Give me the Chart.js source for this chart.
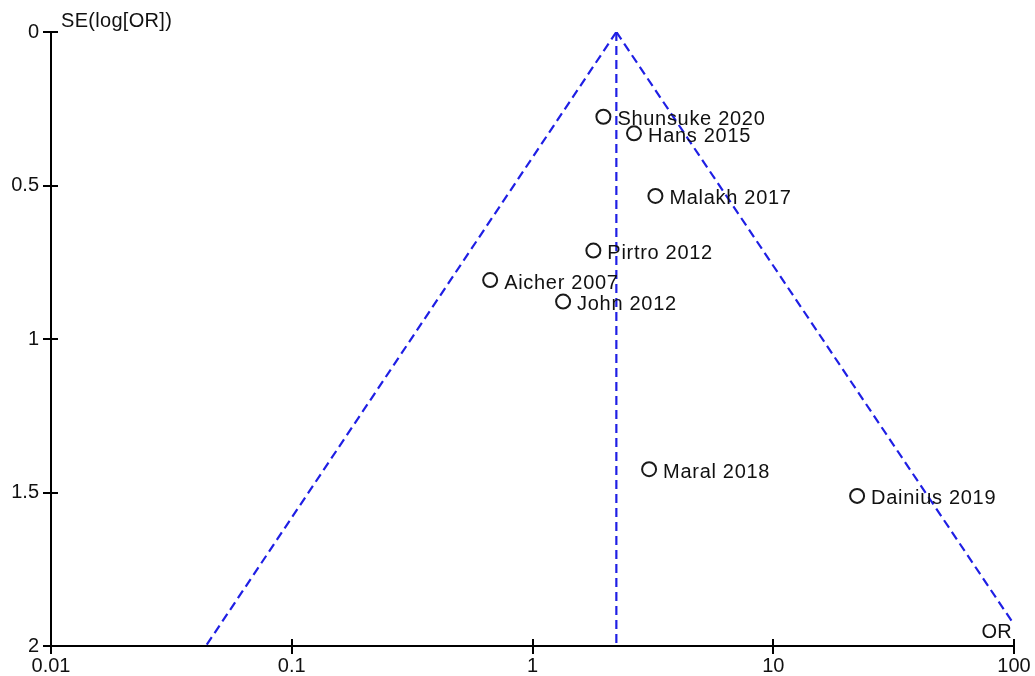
<!DOCTYPE html>
<html>
<head>
<meta charset="utf-8">
<title>Funnel plot</title>
<script src="https://cdn.jsdelivr.net/npm/chart.js@4/dist/chart.umd.min.js"></script>
<style>
  html, body { margin: 0; padding: 0; background: #fff; }
  #wrap { width: 1035px; height: 676px; position: relative; }
</style>
</head>
<body>
<div id="wrap"><canvas id="funnel"></canvas></div>
<script>
// Studies: odds ratio and standard error of log(OR)
const studyNames = ['Shunsuke 2020', 'Hans 2015', 'Malakh 2017', 'Pirtro 2012',
                    'Aicher 2007', 'John 2012', 'Maral 2018', 'Dainius 2019'];
const studyOR = [1.97, 2.64, 3.24, 1.79, 0.667, 1.34, 3.05, 22.3];
const studySE = [0.276, 0.33, 0.534, 0.712, 0.808, 0.878, 1.424, 1.511];

// Pooled estimate and the pseudo 95% confidence limits of the funnel
const pooledOR = 2.23;
const funnelLeftOR = [2.23, 0.044];
const funnelLeftSE = [0, 2];
const funnelRightOR = [2.23, 100];
const funnelRightSE = [0, 1.93];
const centerLineOR = [2.23, 2.23];
const centerLineSE = [0, 2];

// Axis ticks
const xTickValues = [0.01, 0.1, 1, 10, 100];
const xTickLabels = ['0.01', '0.1', '1', '10', '100'];
const yTickValues = [0, 0.5, 1, 1.5, 2];
const yTickLabels = ['0', '0.5', '1', '1.5', '2'];

const FONT = 'Liberation Sans, Arial, sans-serif';
const DASH_BLUE = '#1f1fe4';

const pairs = (xs, ys) => xs.map((x, i) => ({ x: x, y: ys[i] }));

const guideStyle = {
  type: 'line',
  showLine: true,
  borderColor: DASH_BLUE,
  borderWidth: 2.2,
  borderDash: [9, 5],
  pointRadius: 0,
  fill: false,
  tension: 0
};

const annotate = {
  id: 'annotate',
  afterDatasetsDraw(chart) {
    const ctx = chart.ctx;
    const xs = chart.scales.x, ys = chart.scales.y;
    const area = chart.chartArea;
    ctx.save();
    // inner half of the crossing tick marks
    ctx.strokeStyle = '#000';
    ctx.lineWidth = 2;
    ctx.beginPath();
    xTickValues.forEach(v => {
      const px = Math.round(xs.getPixelForValue(v));
      ctx.moveTo(px, area.bottom);
      ctx.lineTo(px, area.bottom - 7);
    });
    yTickValues.forEach(v => {
      const py = Math.round(ys.getPixelForValue(v));
      ctx.moveTo(area.left, py);
      ctx.lineTo(area.left + 7, py);
    });
    ctx.stroke();

    // study labels
    ctx.fillStyle = '#111';
    ctx.font = '20px ' + FONT;
    ctx.textAlign = 'left';
    ctx.textBaseline = 'middle';
    ctx.letterSpacing = '0.7px';
    studyNames.forEach((name, i) => {
      const px = xs.getPixelForValue(studyOR[i]);
      const py = ys.getPixelForValue(studySE[i]);
      ctx.fillText(name, px + 14, py + 3);
    });

    // axis titles
    ctx.letterSpacing = '0.3px';
    ctx.fillText('SE(log[OR])', area.left + 10, 21);
    ctx.textAlign = 'right';
    ctx.fillText('OR', area.right - 2, area.bottom - 14);
    ctx.restore();
  }
};

new Chart(document.getElementById('funnel'), {
  type: 'scatter',
  data: {
    datasets: [
      Object.assign({ data: pairs(funnelLeftOR, funnelLeftSE) }, guideStyle),
      Object.assign({ data: pairs(funnelRightOR, funnelRightSE) }, guideStyle),
      Object.assign({ data: pairs(centerLineOR, centerLineSE) }, guideStyle),
      {
        data: pairs(studyOR, studySE),
        pointStyle: 'circle',
        pointRadius: 7,
        pointBorderWidth: 2,
        pointBorderColor: '#1a1a1a',
        pointBackgroundColor: 'rgba(255,255,255,0)',
        showLine: false
      }
    ]
  },
  options: {
    responsive: true,
    maintainAspectRatio: false,
    animation: false,
    layout: { padding: { top: 32, right: 21, left: 0, bottom: 0 } },
    plugins: { legend: { display: false }, tooltip: { enabled: false } },
    scales: {
      x: {
        type: 'logarithmic',
        min: 0.01,
        max: 100,
        afterBuildTicks(scale) { scale.ticks = xTickValues.map(v => ({ value: v, major: true })); },
        afterFit(scale) { scale.height = 30; },
        ticks: {
          autoSkip: false,
          maxRotation: 0,
          padding: 0,
          color: '#111',
          font: { family: FONT, size: 20 },
          callback(value) { const i = xTickValues.indexOf(value); return i >= 0 ? xTickLabels[i] : ''; }
        },
        grid: { display: true, drawOnChartArea: false, drawTicks: true, tickLength: 8, color: '#000', lineWidth: 2 },
        border: { display: true, color: '#000', width: 2 }
      },
      y: {
        type: 'linear',
        min: 0,
        max: 2,
        reverse: true,
        afterBuildTicks(scale) { scale.ticks = yTickValues.map(v => ({ value: v })); },
        afterFit(scale) { scale.width = 51; },
        ticks: {
          autoSkip: false,
          padding: 4,
          color: '#111',
          font: { family: FONT, size: 20 },
          callback(value) { const i = yTickValues.indexOf(value); return i >= 0 ? yTickLabels[i] : ''; }
        },
        grid: { display: true, drawOnChartArea: false, drawTicks: true, tickLength: 8, color: '#000', lineWidth: 2 },
        border: { display: true, color: '#000', width: 2 }
      }
    }
  },
  plugins: [annotate]
});
</script>
</body>
</html>
